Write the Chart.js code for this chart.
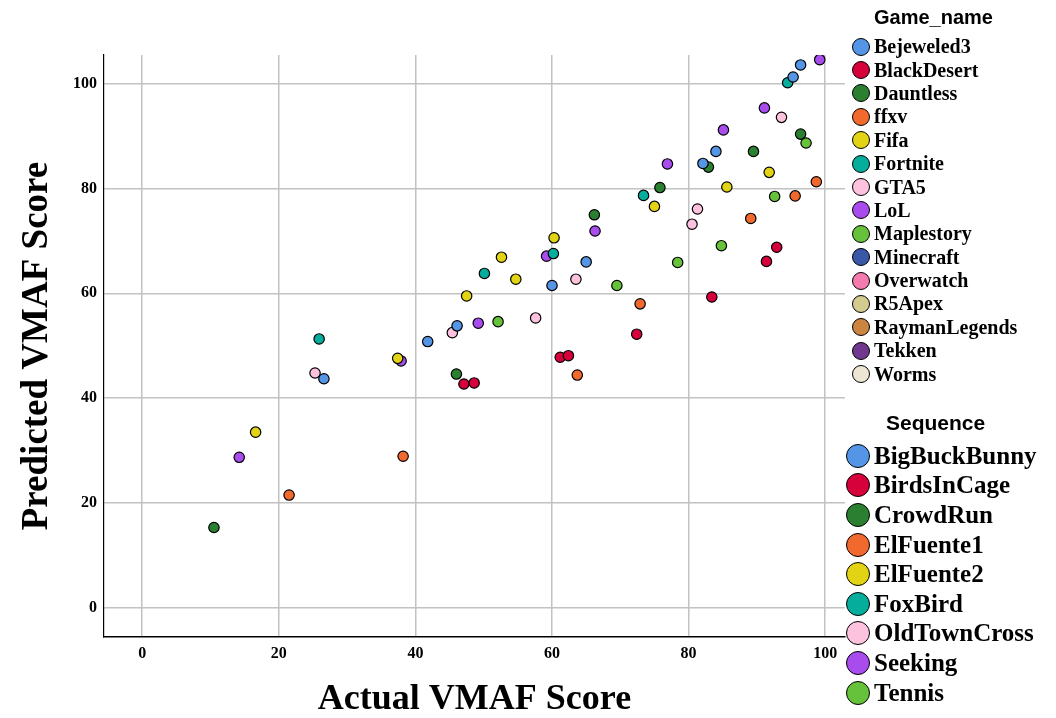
<!DOCTYPE html>
<html>
<head>
<meta charset="utf-8">
<script src="https://cdn.jsdelivr.net/npm/chart.js@4"></script>
<style>
  body { margin: 0; background: #fff; }
  #wrap { position: relative; width: 1056px; height: 718px; }
  #chart { position: absolute; left: 0; top: 0; }
  .legend { position: absolute; font-family: "Liberation Serif", "Times New Roman", serif; font-weight: bold; color: #000; }
  .legend .title { font-family: "Liberation Sans", Arial, sans-serif; font-weight: bold; }
  .legend .row { display: flex; align-items: center; white-space: nowrap; }
  .legend .dot { box-sizing: border-box; border: 1.5px solid #000; border-radius: 50%; flex: none; }
  #gameLegend { left: 852px; top: 5px; }
  #gameLegend .title { font-size: 20px; height: 30px; line-height: 24px; margin-left: 22px; }
  #gameLegend .row { height: 23.4px; font-size: 20px; }
  #gameLegend .dot { width: 18px; height: 18px; margin-right: 4px; }
  #seqLegend { left: 846px; top: 408px; }
  #seqLegend .title { font-size: 21px; height: 33px; line-height: 30px; margin-left: 40px; }
  #seqLegend .row { height: 29.6px; font-size: 25px; }
  #seqLegend .dot { width: 24px; height: 24px; margin-right: 4px; }
</style>
</head>
<body>
<div id="wrap">
  <canvas id="chart" width="1056" height="718"></canvas>
  <div class="legend" id="gameLegend"></div>
  <div class="legend" id="seqLegend"></div>
</div>
<script>
// Sequence names and colours (points are coloured by sequence)
const seqNames = ['BigBuckBunny', 'BirdsInCage', 'CrowdRun', 'ElFuente1', 'ElFuente2',
  'FoxBird', 'OldTownCross', 'Seeking', 'Tennis'];
const seqColors = ['#5495e6', '#d6003b', '#2a8030', '#f2692e', '#e2d414',
  '#05ad9c', '#fcc2de', '#a84cee', '#66c23b'];

// Game legend
const gameNames = ['Bejeweled3', 'BlackDesert', 'Dauntless', 'ffxv', 'Fifa', 'Fortnite', 'GTA5',
  'LoL', 'Maplestory', 'Minecraft', 'Overwatch', 'R5Apex', 'RaymanLegends', 'Tekken', 'Worms'];
const gameColors = ['#5495e6', '#d6003b', '#2a8030', '#f2692e', '#e2d414', '#05ad9c', '#fcc2de',
  '#a84cee', '#66c23b', '#3b58a8', '#f57aad', '#d3cc90', '#cc8540', '#70398f', '#ede6d2'];

// Actual (x) and predicted (y) VMAF per sequence
const bigBuckBunny = [[46.1, 53.8], [41.8, 50.8], [26.6, 43.7], [96.4, 103.6], [95.3, 101.3],
  [84.0, 87.1], [82.1, 84.8], [65.0, 66.0], [60.0, 61.5]];
const birdsInCage = [[47.1, 42.7], [48.6, 42.9], [61.2, 47.8], [62.4, 48.1], [92.9, 68.8],
  [91.4, 66.1], [83.4, 59.3], [72.4, 52.2]];
const crowdRun = [[46.0, 44.6], [10.5, 15.3], [96.4, 90.4], [89.5, 87.1], [82.9, 84.1],
  [75.8, 80.2], [66.2, 75.0]];
const elFuente1 = [[63.7, 44.4], [38.2, 28.9], [21.5, 21.5], [98.7, 81.3], [95.6, 78.6],
  [89.1, 74.3], [72.9, 58.0]];
const elFuente2 = [[47.5, 59.5], [37.4, 47.6], [16.6, 33.5], [91.8, 83.1], [85.6, 80.3],
  [75.0, 76.6], [60.3, 70.6], [52.6, 66.9], [54.7, 62.7]];
const foxBird = [[25.9, 51.3], [94.5, 100.2], [73.4, 78.7], [60.2, 67.6], [50.1, 63.8]];
const oldTownCross = [[45.4, 52.5], [25.3, 44.8], [93.6, 93.6], [81.3, 76.1], [80.5, 73.2],
  [63.5, 62.7], [57.6, 55.3]];
const seeking = [[49.2, 54.3], [37.9, 47.1], [14.2, 28.7], [99.2, 104.6], [91.1, 95.4],
  [85.1, 91.2], [76.9, 84.7], [66.3, 71.9], [59.2, 67.1]];
const tennis = [[52.1, 54.6], [97.2, 88.7], [92.6, 78.5], [84.8, 69.1], [78.4, 65.9], [69.5, 61.5]];

const seqData = [bigBuckBunny, birdsInCage, crowdRun, elFuente1, elFuente2,
  foxBird, oldTownCross, seeking, tennis];

const tickValues = [0, 20, 40, 60, 80, 100];

const serif = '"Liberation Serif", "Times New Roman", serif';

const datasets = seqNames.map((name, i) => ({
  label: name,
  data: seqData[i].map(p => ({ x: p[0], y: p[1] })),
  backgroundColor: seqColors[i],
  borderColor: '#000',
  borderWidth: 1.2,
  pointRadius: 5.2
}));

const gridOpts = { color: '#c2c2c2', lineWidth: 1.5, drawTicks: false };

new Chart(document.getElementById('chart').getContext('2d'), {
  type: 'scatter',
  data: { datasets },
  options: {
    responsive: false,
    animation: false,
    layout: { padding: { top: 55, right: 211, left: 0, bottom: 0 } },
    plugins: { legend: { display: false }, tooltip: { enabled: false } },
    scales: {
      x: {
        type: 'linear',
        min: -5.6,
        max: 102.9,
        afterBuildTicks: axis => { axis.ticks = tickValues.map(v => ({ value: v })); },
        afterFit: axis => { axis.height = 81; },
        grid: gridOpts,
        border: { color: '#000', width: 1.5 },
        ticks: { color: '#000', padding: 7, font: { family: serif, size: 16, weight: 'bold' } },
        title: {
          display: true,
          text: 'Actual VMAF Score',
          color: '#000',
          padding: { top: 0, bottom: 0 },
          font: { family: serif, size: 36, weight: 'bold', lineHeight: 1 }
        }
      },
      y: {
        type: 'linear',
        min: -5.6,
        max: 105.5,
        afterBuildTicks: axis => { axis.ticks = tickValues.map(v => ({ value: v })); },
        afterFit: axis => { axis.width = 104; },
        grid: gridOpts,
        border: { color: '#000', width: 1.2 },
        ticks: { color: '#000', padding: 7, font: { family: serif, size: 16, weight: 'bold' } },
        title: {
          display: true,
          text: 'Predicted VMAF Score',
          color: '#000',
          padding: { top: 19, bottom: 0 },
          font: { family: serif, size: 37, weight: 'bold', lineHeight: 1 }
        }
      }
    }
  }
});

// Custom legends
function buildLegend(id, title, names, colors) {
  const el = document.getElementById(id);
  let html = '<div class="title">' + title + '</div>';
  names.forEach((n, i) => {
    html += '<div class="row"><span class="dot" style="background:' + colors[i] + '"></span>' + n + '</div>';
  });
  el.innerHTML = html;
}
buildLegend('gameLegend', 'Game_name', gameNames, gameColors);
buildLegend('seqLegend', 'Sequence', seqNames, seqColors);
</script>
</body>
</html>
